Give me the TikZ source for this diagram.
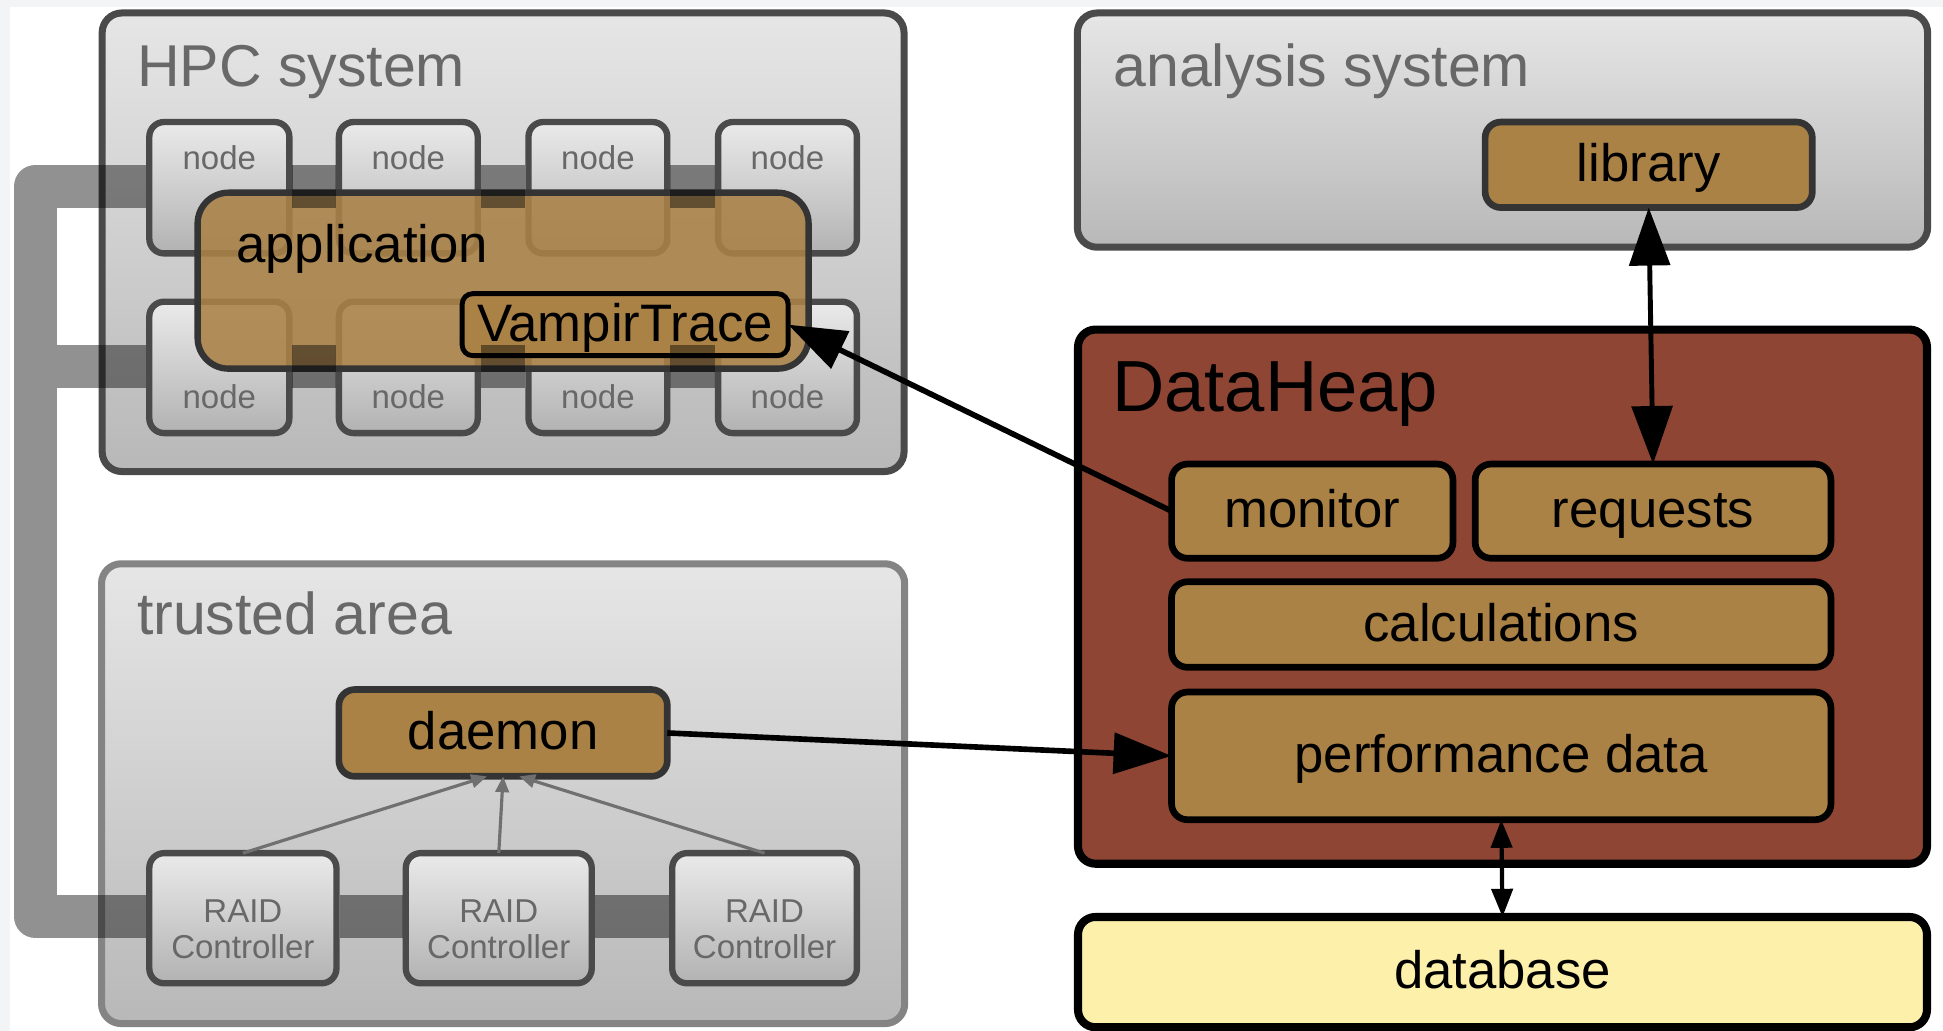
\documentclass[tikz,border=0pt]{standalone}
\usepackage{fontspec}
\setmainfont{Liberation Sans}
\usetikzlibrary{arrows.meta,calc}

\definecolor{boxtan}{RGB}{170,130,70}
\definecolor{heapred}{RGB}{143,69,51}
\definecolor{dbyellow}{RGB}{253,240,170}
\definecolor{boxtop}{RGB}{230,230,230}
\definecolor{boxbot}{RGB}{184,184,184}
\definecolor{nodetop}{RGB}{234,234,234}
\definecolor{nodebot}{RGB}{178,178,178}
\definecolor{frameg}{RGB}{74,74,74}
\definecolor{trustframe}{RGB}{132,132,132}
\definecolor{darkedge}{RGB}{52,52,52}
\definecolor{lblgray}{RGB}{104,104,104}
\definecolor{margin}{RGB}{243,244,246}
\definecolor{wire}{RGB}{112,112,112}

% box given by its corners: [style]{name}{x1}{y1}{x2}{y2}{text}
\newcommand\bx[7][]{\node[#1,minimum width={(#5-#3)*0.35259pt},minimum height={(#6-#4)*0.35259pt}] (#2) at ({(#3+#5)/2},{(#4+#6)/2}) {#7};}

\begin{document}
\begin{tikzpicture}[x=0.012392cm,y=-0.012392cm,
  sysbox/.style={draw=frameg,line width=2pt,rounded corners=5.6pt,top color=boxtop,bottom color=boxbot,inner sep=0pt,outer sep=0pt},
  hostbox/.style={draw=frameg,line width=1.8pt,rounded corners=4.2pt,top color=nodetop,bottom color=nodebot,inner sep=0pt,outer sep=0pt},
  tanbox/.style={draw=black,line width=1.9pt,rounded corners=4.5pt,fill=boxtan,inner sep=0pt,outer sep=0pt,text height=12pt,text depth=2.5pt,font=\fontsize{15}{18}\selectfont},
  title/.style={anchor=base west,inner sep=0pt,text=lblgray,font=\fontsize{16.8}{20}\selectfont},
  small/.style={inner sep=0pt,text=lblgray,align=center,font=\fontsize{9.4}{10.4}\selectfont},
  bigarrow/.style={line width=1.6pt,-{Triangle[length=16.5pt,width=11.5pt]}},
  twoway/.style={line width=1.4pt,{Triangle[length=16.5pt,width=11.5pt]}-{Triangle[length=16.5pt,width=11.5pt]}},
  smallway/.style={line width=1.2pt,{Triangle[length=8pt,width=6pt]}-{Triangle[length=8pt,width=6pt]}},
  feed/.style={draw=wire,line width=0.9pt,-{Triangle[length=4.5pt,width=3.8pt]}},
  bus/.style={draw=black,draw opacity=0.43,line width=12.3pt,line join=round,line cap=butt}]

\useasboundingbox (0,0) rectangle (1568,832);
\fill[margin] (0,0) rectangle (1568,832);
\fill[white] (8,6) rectangle (1568,832);

% system areas
\bx[sysbox]{hpc}{82.5}{10.5}{729.5}{380.5}{}
\bx[sysbox]{ana}{869.5}{10.5}{1555.5}{199.5}{}
\bx[sysbox,draw=trustframe]{trust}{82}{455}{730}{826}{}

% compute nodes
\bx[hostbox]{n1}{120.5}{98.5}{233.5}{204.5}{}
\bx[hostbox]{n2}{273.5}{98.5}{385.5}{204.5}{}
\bx[hostbox]{n3}{426.5}{98.5}{538.5}{204.5}{}
\bx[hostbox]{n4}{579.5}{98.5}{691.5}{204.5}{}
\bx[hostbox]{n5}{120.5}{243.5}{233.5}{349.5}{}
\bx[hostbox]{n6}{273.5}{243.5}{385.5}{349.5}{}
\bx[hostbox]{n7}{426.5}{243.5}{538.5}{349.5}{}
\bx[hostbox]{n8}{579.5}{243.5}{691.5}{349.5}{}
\foreach \k in {1,2,3,4} {\node[small] (n\k l) at ($(n\k.north)+(0,29)$) {node};}
\foreach \k in {5,6,7,8} {\node[small] (n\k l) at ($(n\k.south)+(0,-29)$) {node};}

% RAID controllers
\bx[hostbox]{r1}{120.5}{688.5}{271.5}{793.5}{}
\bx[hostbox]{r2}{327.5}{688.5}{477.5}{793.5}{}
\bx[hostbox]{r3}{542.5}{688.5}{691.5}{793.5}{}
\foreach \k in {1,2,3} {\node[small] (r\k l) at ($(r\k.center)+(0,9)$) {RAID\\Controller};}

% application with its tracing layer
\bx[tanbox,draw=darkedge,line width=1.8pt,rounded corners=8.8pt,fill opacity=0.88,text opacity=1]{app}{159.5}{155.5}{652.5}{297.5}{}
\node[anchor=base west,inner sep=0pt,font=\fontsize{15}{18}\selectfont] (appl) at (190,212) {application};
\bx[tanbox,line width=1.4pt,rounded corners=3pt]{vt}{373}{237}{636}{287}{VampirTrace}

% interconnect, visible between the boxes
\draw[bus] (118,150.5) -- (28.5,150.5) -- (28.5,739.5) -- (118,739.5)
  (28.5,295.5) -- (118,295.5)
  (236,150.5) -- (271,150.5) (388,150.5) -- (424,150.5) (541,150.5) -- (577,150.5)
  (236,295.5) -- (271,295.5) (388,295.5) -- (424,295.5) (541,295.5) -- (577,295.5)
  (274,739.5) -- (325,739.5) (480,739.5) -- (540,739.5);

% analysis side
\bx[tanbox,draw=darkedge]{lib}{1198.5}{98.5}{1462.5}{167.5}{library}

% DataHeap
\bx[tanbox,fill=heapred,line width=2.3pt,rounded corners=5pt]{heap}{870}{266}{1555}{697}{}
\node[anchor=base west,inner sep=0pt,font=\fontsize{20.6}{24}\selectfont] (heapl) at (897,332) {DataHeap};
\bx[tanbox]{mon}{945.5}{374.5}{1172.5}{450.5}{monitor}
\bx[tanbox]{req}{1190.5}{374.5}{1477.5}{450.5}{requests}
\bx[tanbox]{calc}{945.5}{469.5}{1477.5}{538.5}{calculations}
\bx[tanbox]{perf}{945.5}{558.5}{1477.5}{661.5}{performance data}
\bx[tanbox,fill=dbyellow,line width=2.3pt,rounded corners=5pt]{db}{870}{740}{1555}{829}{database}

% daemon in the trusted area
\bx[tanbox,draw=darkedge]{dae}{273.5}{556.5}{538.5}{626.5}{daemon}

% titles
\node[title] (hpcl) at (110,70) {HPC system};
\node[title] (anal) at (898,70) {analysis system};
\node[title] (trustl) at (110,512) {trusted area};

% data flow
\draw[feed] (r1.north) -- ($(dae.south)+(-13,0)$);
\draw[feed] (r2.north) -- (dae.south);
\draw[feed] (r3.north) -- ($(dae.south)+(13,0)$);
\draw[bigarrow] (mon.west) -- (vt.east);
\draw[bigarrow] (dae.east) -- (perf.west);
\draw[twoway] (lib.south) -- (req.north);
\draw[smallway] (perf.south) -- (db.north);
\end{tikzpicture}
\end{document}
